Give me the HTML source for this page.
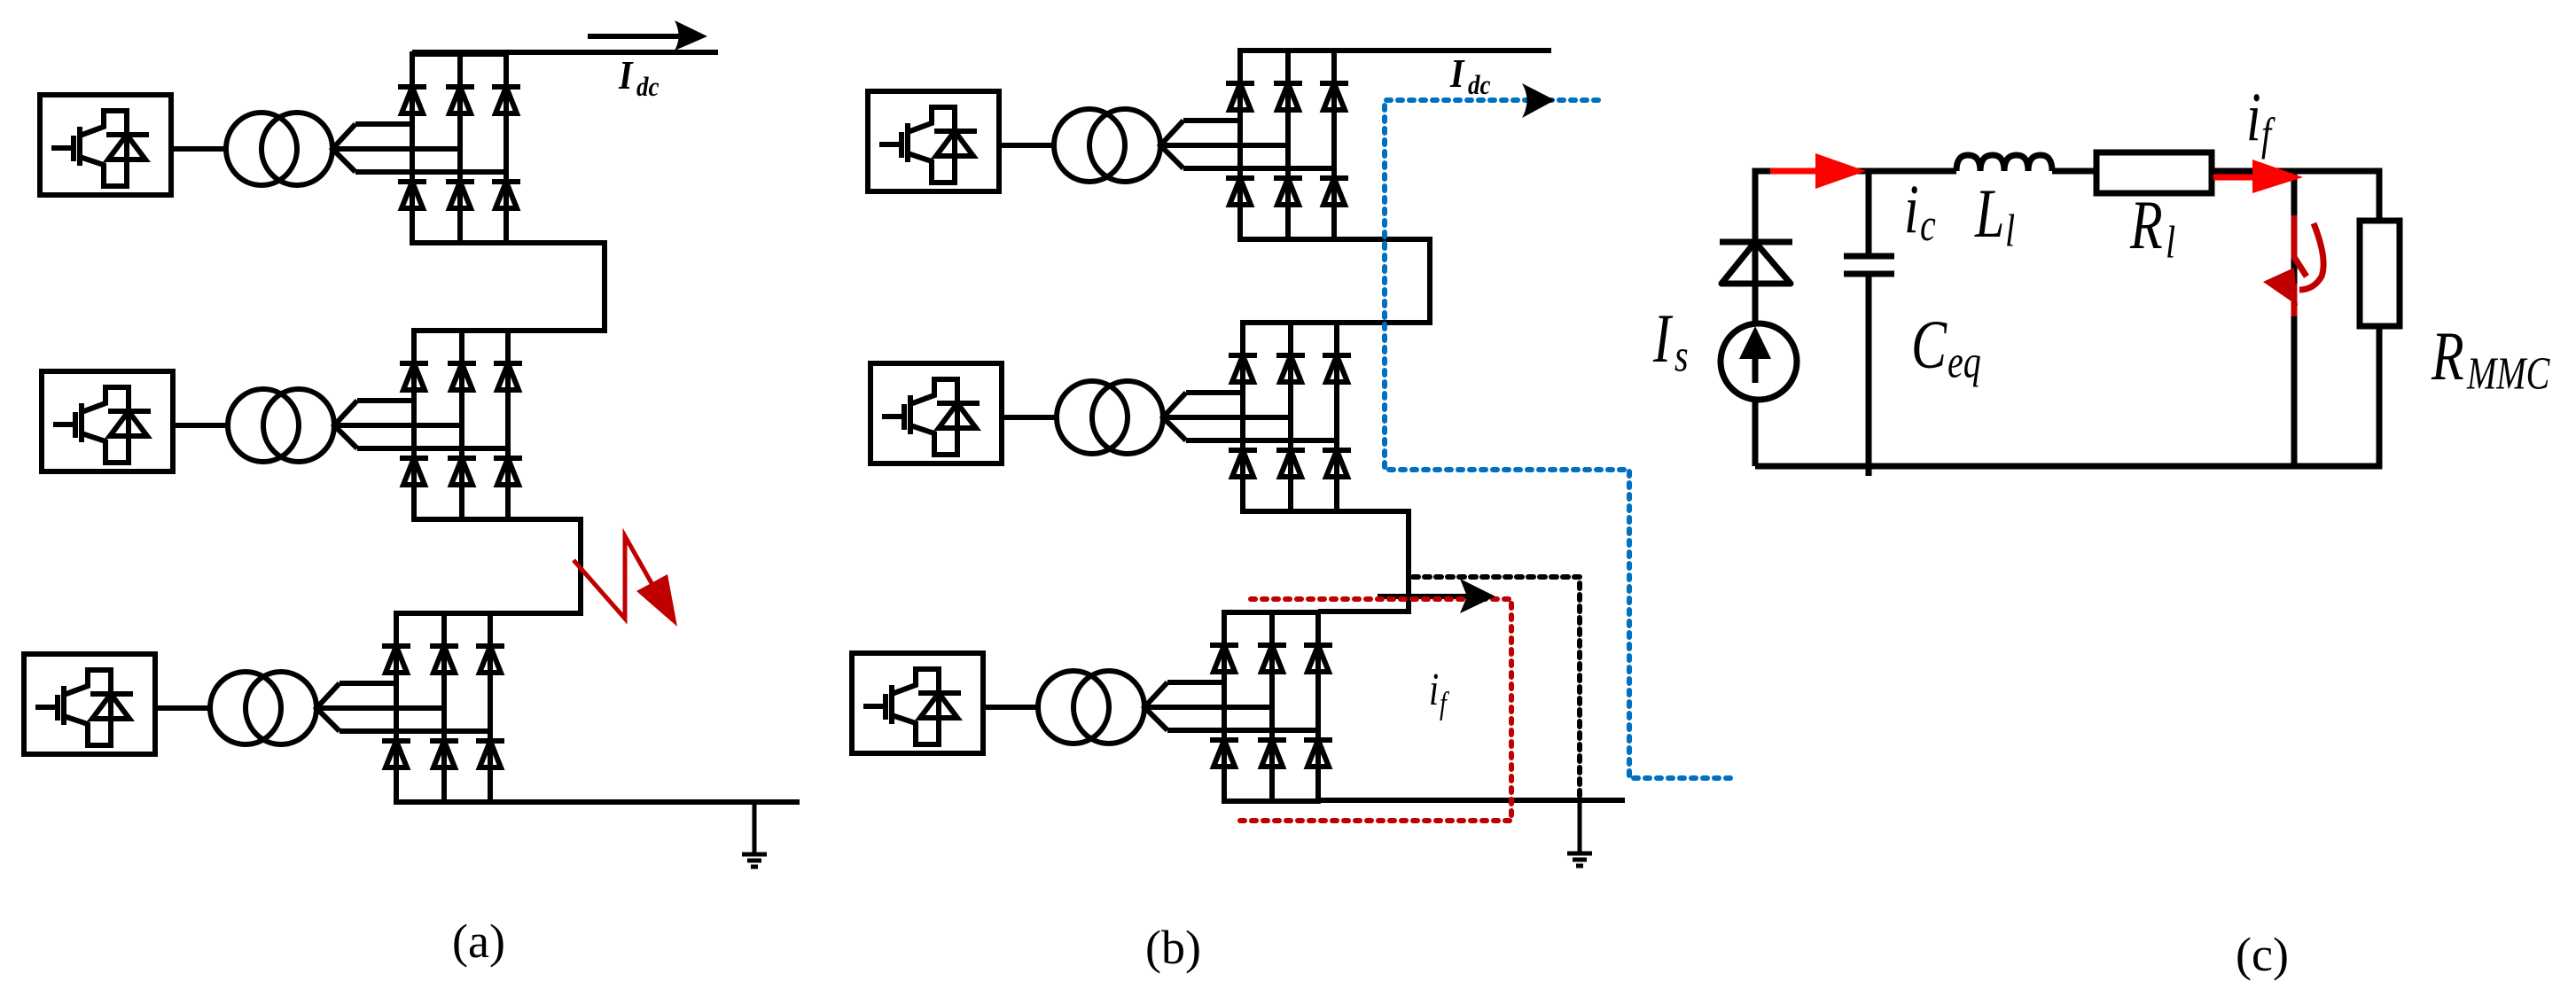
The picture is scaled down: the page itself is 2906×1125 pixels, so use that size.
<!DOCTYPE html>
<html><head><meta charset="utf-8"><style>
html,body{margin:0;padding:0;background:#fff;}
svg{display:block;}
text{font-family:"Liberation Serif",serif;}
</style></head><body>
<svg width="2906" height="1125" viewBox="0 0 2906 1125" xmlns="http://www.w3.org/2000/svg">
<defs>
<g id="stage" fill="none" stroke="#000" stroke-width="6" stroke-linejoin="miter">
  <rect x="0" y="0" width="148" height="113"/>
  <line x1="13" y1="60" x2="37" y2="60"/>
  <line x1="38" y1="46" x2="38" y2="75"/>
  <line x1="45" y1="36" x2="45" y2="80"/>
  <polyline points="45,46 72,36 72,18 98,18 98,103 72,103 72,79 45,70"/>
  <line x1="75" y1="45" x2="123" y2="45"/>
  <polygon points="98,45 77,73 119,73"/>
  <line x1="148" y1="61" x2="210" y2="61"/>
  <ellipse cx="250" cy="61" rx="40" ry="41"/>
  <ellipse cx="290" cy="61" rx="40" ry="41"/>
  <polyline points="356,33 330,61 356,87"/>
  <line x1="356" y1="33" x2="420" y2="33"/>
  <line x1="330" y1="61" x2="474" y2="61"/>
  <line x1="356" y1="87" x2="526" y2="87"/>
  <line x1="420" y1="-46" x2="420" y2="167"/>
  <line x1="474" y1="-46" x2="474" y2="167"/>
  <line x1="526" y1="-46" x2="526" y2="167"/>
  <line x1="417" y1="-46" x2="529" y2="-46"/>
  <line x1="417" y1="167" x2="529" y2="167"/>
  <g id="d3">
    <line x1="404" y1="-9" x2="436" y2="-9"/><polygon points="420,-9 408,21 432,21"/>
    <line x1="458" y1="-9" x2="490" y2="-9"/><polygon points="474,-9 462,21 486,21"/>
    <line x1="510" y1="-9" x2="542" y2="-9"/><polygon points="526,-9 514,21 538,21"/>
  </g>
  <use href="#d3" transform="translate(0,107)"/>
</g>
<g id="gnd" stroke="#000" fill="none">
  <line x1="0" y1="0" x2="0" y2="56" stroke-width="5"/>
  <line x1="-14" y1="58" x2="14" y2="58" stroke-width="5"/>
  <line x1="-8" y1="65" x2="8" y2="65" stroke-width="5"/>
  <line x1="-4" y1="72" x2="4" y2="72" stroke-width="5"/>
</g>
</defs>

<use href="#stage" transform="translate(45,107)"/>
<use href="#stage" transform="translate(47,419)"/>
<use href="#stage" transform="translate(27,738)"/>
<g fill="none" stroke="#000" stroke-width="6">
  <line x1="465" y1="59" x2="810" y2="59"/>
  <polyline points="571,274 682,274 682,373 573,373"/>
  <polyline points="573,586 655,586 655,692 553,692"/>
  <line x1="553" y1="905" x2="902" y2="905"/>
  <line x1="663" y1="41" x2="775" y2="41"/>
</g>
<path d="M798,41 L761,23 Q770,41 761,57 Z" fill="#000"/>
<use href="#gnd" transform="translate(851,906)"/>
<g transform="translate(698,100) scale(1,1.15)"><text x="0" y="0" font-size="40" font-weight="bold" font-style="italic">I</text>
<text x="20" y="7" font-size="27" font-weight="bold" font-style="italic">dc</text></g>
<polyline points="647,632 705,698 705,605 735,658" fill="none" stroke="#c00000" stroke-width="5"/>
<polygon points="718,667 753,648 764,707" fill="#c00000"/>
<text x="510" y="1080" font-size="54">(a)</text>

<use href="#stage" transform="translate(979,103)"/>
<use href="#stage" transform="translate(982,410)"/>
<use href="#stage" transform="translate(961,737)"/>
<g fill="none" stroke="#000" stroke-width="6">
  <line x1="1399" y1="57" x2="1750" y2="57"/>
  <polyline points="1505,270 1613,270 1613,364 1508,364"/>
  <polyline points="1508,577 1589,577 1589,690 1487,690"/>
  <line x1="1487" y1="903" x2="1833" y2="903"/>
  <line x1="1554" y1="673" x2="1660" y2="673"/>
</g>
<use href="#gnd" transform="translate(1782,905)"/>
<g transform="translate(1636,98) scale(1,1.15)"><text x="0" y="0" font-size="40" font-weight="bold" font-style="italic">I</text>
<text x="20" y="7" font-size="27" font-weight="bold" font-style="italic">dc</text></g>
<g fill="none" stroke="#0070c0" stroke-width="6" stroke-linecap="round">
  <polyline points="1803,113 1562,113 1562,530 1838,530 1838,878 1953,878" stroke-dasharray="5 8"/>
</g>
<path d="M1754,113 L1717,94 Q1728,113 1717,133 Z" fill="#000"/>
<g fill="none" stroke="#000" stroke-width="6" stroke-linecap="round">
  <polyline points="1594,651 1782,651 1782,900" stroke-dasharray="6 7"/>
</g>
<g fill="none" stroke="#c00000" stroke-width="6" stroke-linecap="round">
  <polyline points="1411,676 1705,676 1705,926 1398,926" stroke-dasharray="5 8"/>
</g>
<polygon points="1687,673 1647,653 1655,673 1647,692" fill="#000"/>
<g transform="translate(1612,795) scale(1,1.3)"><text x="0" y="0" font-size="40" font-style="italic">i</text>
<text x="12" y="8" font-size="28" font-style="italic">f</text></g>
<text x="1292" y="1087" font-size="54">(b)</text>

<g fill="none" stroke="#000" stroke-width="7">
  <polyline points="1980,526 1980,193 2207,193"/>
  <path d="M2207,193 Q2207,175 2220,175 Q2234,175 2234,193 Q2234,175 2248,175 Q2261,175 2261,193 Q2261,175 2275,175 Q2288,175 2288,193 Q2288,175 2302,175 Q2315,175 2315,193"/>
  <line x1="2315" y1="193" x2="2365" y2="193"/>
  <rect x="2365" y="172" width="130" height="46"/>
  <polyline points="2495,193 2684,193 2684,249"/>
  <rect x="2662" y="249" width="45" height="119"/>
  <polyline points="2684,368 2684,526 1980,526"/>
  <line x1="2588" y1="193" x2="2588" y2="526"/>
  <line x1="2108" y1="193" x2="2108" y2="289"/>
  <line x1="2080" y1="289" x2="2137" y2="289"/>
  <line x1="2080" y1="309" x2="2137" y2="309"/>
  <line x1="2108" y1="309" x2="2108" y2="537"/>
  <line x1="1940" y1="273" x2="2022" y2="273"/>
  <polygon points="1980,273 1942,320 2020,320" stroke-linejoin="round"/>
  <circle cx="1984" cy="408" r="43" fill="#fff"/>
  <line x1="1980" y1="405" x2="1980" y2="432"/>
</g>
<polygon points="1980,368 1962,405 1998,405" fill="#000"/>
<line x1="1997" y1="193" x2="2060" y2="193" stroke="#f00" stroke-width="7"/>
<polygon points="2105,193 2048,173 2048,213" fill="#f00"/>
<line x1="2497" y1="200" x2="2550" y2="200" stroke="#f00" stroke-width="7"/>
<polygon points="2598,200 2541,180 2541,218" fill="#f00"/>
<g fill="none" stroke="#c00000" stroke-width="7">
  <polyline points="2588,243 2588,290 2602,312"/>
  <path d="M2610,252 Q2626,292 2619,312 Q2610,327 2594,327"/>
  <line x1="2588" y1="320" x2="2588" y2="357"/>
</g>
<polygon points="2553,318 2588,302 2592,345" fill="#c00000"/>
<g font-style="italic">
<g transform="translate(2534,158) scale(1,1.3)"><text font-size="60">i</text><text x="17" y="8" font-size="40">f</text></g>
<g transform="translate(2148,262) scale(1,1.3)"><text font-size="60">i</text><text x="18" y="7" font-size="40">c</text></g>
<g transform="translate(2228,267) scale(1,1.3)"><text font-size="60">L</text><text x="34" y="8" font-size="40">l</text></g>
<g transform="translate(2403,280) scale(1,1.3)"><text font-size="60">R</text><text x="40" y="8" font-size="40">l</text></g>
<g transform="translate(2156,415) scale(1,1.3)"><text font-size="60">C</text><text x="41" y="8" font-size="40">eq</text></g>
<g transform="translate(2743,428) scale(1,1.3)"><text font-size="60">R</text><text x="40" y="8" font-size="40">MMC</text></g>
<g transform="translate(1865,408) scale(1,1.3)"><text font-size="60">I</text><text x="24" y="8" font-size="40">s</text></g>
</g>
<text x="2522" y="1095" font-size="54">(c)</text>
</svg>
</body></html>
